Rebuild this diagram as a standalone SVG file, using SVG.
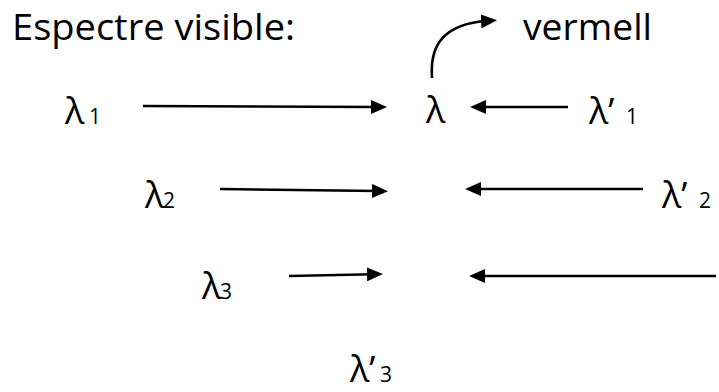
<svg xmlns="http://www.w3.org/2000/svg" width="719" height="392" viewBox="0 0 719 392">
<style>
.t{font-family:"Open Sans","Noto Sans","Liberation Sans",sans-serif;fill:#000}
.big{font-size:36px}
.sub{font-size:21px}
.hd{font-size:37px}
.c{fill:none;stroke:#000;stroke-width:2.6}
</style>
<defs>
<marker id="ah" viewBox="0 0 16 14" refX="6" refY="7" markerWidth="16" markerHeight="14" markerUnits="userSpaceOnUse" orient="auto">
<path d="M0,0 L16,7 L0,14 z" fill="#000"/>
</marker>
</defs>
<rect width="719" height="392" fill="#fff"/>
<g id="title"><text class="t hd" x="12" y="40" textLength="283" lengthAdjust="spacingAndGlyphs">Espectre visible:</text></g>
<g id="vermell"><text class="t hd" x="523" y="40" textLength="129" lengthAdjust="spacingAndGlyphs">vermell</text></g>
<g id="lambda1"><text class="t big" x="65" y="124">λ</text><text class="t sub" x="89" y="124">1</text></g>
<g id="lambda"><text class="t big" x="426" y="123">λ</text></g>
<g id="lambdap1"><text class="t big" x="589" y="124">λ’</text><text class="t sub" x="626" y="124">1</text></g>
<g id="lambda2"><text class="t big" x="145" y="208">λ</text><text class="t sub" x="163" y="208">2</text></g>
<g id="lambdap2"><text class="t big" x="662" y="208">λ’</text><text class="t sub" x="699" y="208">2</text></g>
<g id="lambda3"><text class="t big" x="202" y="299">λ</text><text class="t sub" x="220" y="299">3</text></g>
<g id="lambdap3"><text class="t big" x="350" y="382">λ’</text><text class="t sub" x="380" y="382">3</text></g>
<g id="connectors">
<path class="c" d="M143,106 L377,107" marker-end="url(#ah)"/>
<path class="c" d="M568,107 L480,107" marker-end="url(#ah)"/>
<path class="c" d="M220,189 L378,191" marker-end="url(#ah)"/>
<path class="c" d="M643,189 L475,189" marker-end="url(#ah)"/>
<path class="c" d="M289,276 L373,274.2" marker-end="url(#ah)"/>
<path class="c" d="M716,276 L479,276" marker-end="url(#ah)"/>
<path class="c" d="M432,78 C430,50 439,27 480,21.5 L487,21" marker-end="url(#ah)"/>
</g>
</svg>
